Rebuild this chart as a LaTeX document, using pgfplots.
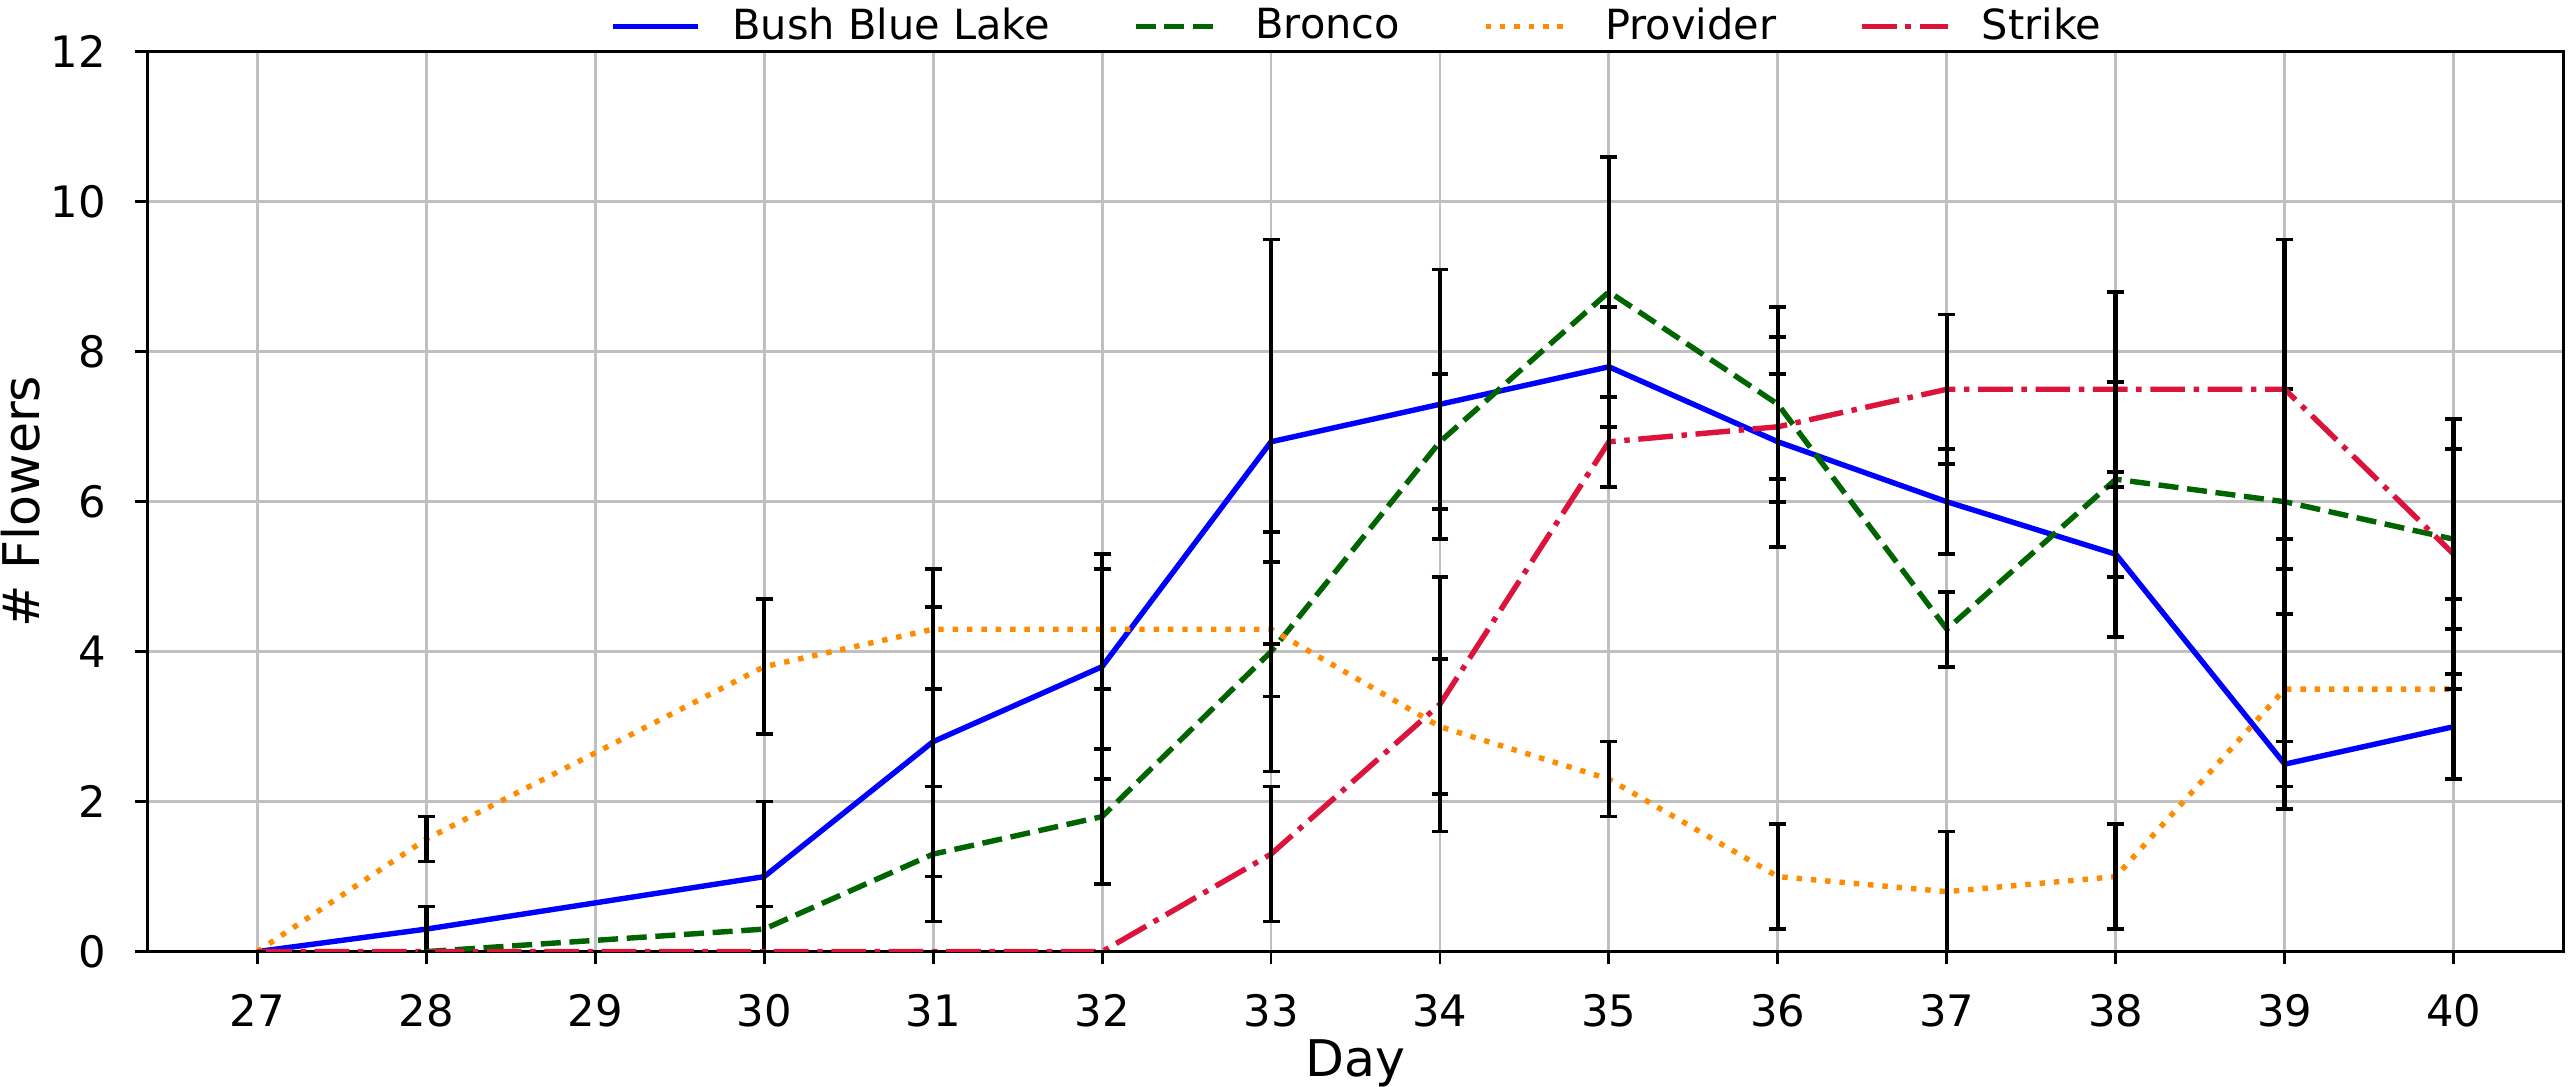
\documentclass[border=0pt]{standalone}
\usepackage{fontspec}
\setmainfont{DejaVu Sans}
\usepackage{pgfplots}
\usepackage{pgfplotstable}
\pgfplotsset{compat=1.18}

\definecolor{cblue}{RGB}{0,0,255}
\definecolor{cgreen}{RGB}{0,100,0}
\definecolor{corange}{RGB}{255,140,0}
\definecolor{cred}{RGB}{220,20,60}
\definecolor{gridc}{RGB}{192,192,192}

\pgfplotstableread{
x y e
27 0 0
28 0.3 0.3
30 1.0 1.0
31 2.8 1.8
32 3.8 1.5
33 6.8 2.7
34 7.3 1.8
35 7.8 0.8
36 6.8 1.4
37 6.0 0.7
38 5.3 1.1
39 2.5 0.3
40 3.0 0.7
}\bush

\pgfplotstableread{
x y e
28 0 0
30 0.3 0.3
31 1.3 0.9
32 1.8 0.9
33 4.0 1.6
34 6.8 0.9
35 8.8 1.8
36 7.3 1.3
37 4.3 0.5
38 6.3 1.3
39 6.0 1.5
40 5.5 1.2
}\bronco

\pgfplotstableread{
x y e
27 0 0
28 1.5 0.3
30 3.8 0.9
31 4.3 0.8
32 4.3 0.8
33 4.3 0.9
34 3.0 0.9
35 2.3 0.5
36 1.0 0.7
37 0.8 0.8
38 1.0 0.7
39 3.5 1.6
40 3.5 1.2
}\provider

\pgfplotstableread{
x y e
27 0 0
28 0 0
30 0 0
31 0 0
32 0 0
33 1.3 0.9
34 3.3 1.7
35 6.8 0.6
36 7.0 0.7
37 7.5 1.0
38 7.5 1.3
39 7.5 2.0
40 5.3 1.8
}\strike

\begin{document}
\begin{tikzpicture}
\begin{axis}[
  name=ax,
  scale only axis,
  width=669.2pt, height=249.2pt,
  xmin=26.35, xmax=40.65, ymin=0, ymax=12,
  xtick={27,...,40}, ytick={0,2,...,12},
  grid=major,
  major grid style={gridc, line width=0.8pt},
  axis line style={black, line width=0.8pt},
  tick align=outside, tick pos=left,
  major tick length=3.5pt,
  tick style={black, line width=0.8pt},
  /pgf/number format/assume math mode=true,
  ticklabel style={font=\fontsize{12}{14.4}\selectfont},
  xticklabel style={anchor=north, inner sep=0pt, yshift=-8.27pt},
  yticklabel style={anchor=east, inner sep=0pt, xshift=-7.8pt},
  xlabel={Day},
  ylabel={\# Flowers},
  xlabel style={font=\fontsize{14}{16.8}\selectfont, at={(axis description cs:0.5,0)}, anchor=base, yshift=-34.5pt, inner sep=0pt},
  ylabel style={font=\fontsize{14}{16.8}\selectfont, at={(axis description cs:-0.0448,0.5)}, anchor=base, inner sep=0pt},
  legend style={at={(0.5,1)}, anchor=south, yshift=1.7pt, draw=none, fill=none,
    font=\fontsize{11.5}{13.8}\selectfont, inner xsep=0pt, inner ysep=0pt,
    nodes={inner sep=0pt, text depth=0.15em},
    /tikz/every odd column/.append style={column sep=8.6pt},
    /tikz/every even column/.append style={column sep=23pt}},
  legend columns=4,
  legend image code/.code={\draw[#1] (0pt,0pt) -- (23.8pt,0pt);},
  every axis plot/.append style={line width=1.5pt, line join=round},
  error bars/y dir=both, error bars/y explicit,
  error bars/error bar style={black, solid, line width=1.3pt},
  error bars/error mark options={rotate=90, black, solid, mark size=2.35pt, line width=1pt},
]
\addplot[cblue, solid] table[x=x, y=y, y error=e] {\bush};
\addlegendentry{Bush Blue Lake}
\addplot[cgreen, dash pattern=on 5.55pt off 2.4pt] table[x=x, y=y, y error=e] {\bronco};
\addlegendentry{Bronco}
\addplot[corange, dash pattern=on 1.5pt off 2.475pt] table[x=x, y=y, y error=e] {\provider};
\addlegendentry{Provider}
\addplot[cred, dash pattern=on 9.6pt off 2.4pt on 1.5pt off 2.4pt] table[x=x, y=y, y error=e] {\strike};
\addlegendentry{Strike}
\end{axis}
\pgfresetboundingbox
\path ([shift={(-40.84pt,-37.38pt)}]ax.south west) rectangle ([shift={(1.24pt,14.38pt)}]ax.north east);
\end{tikzpicture}
\end{document}
